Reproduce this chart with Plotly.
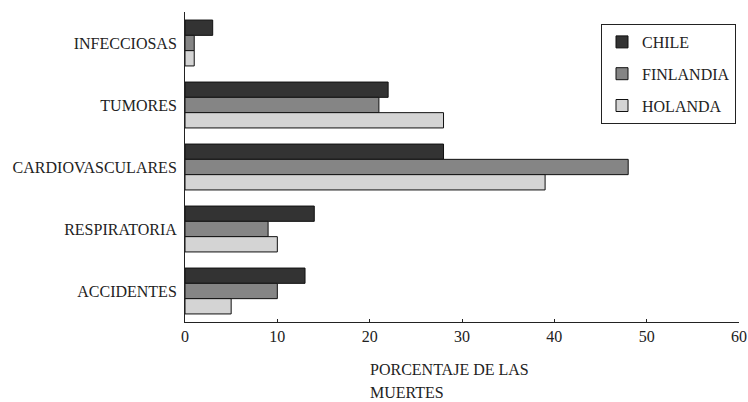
import plotly.graph_objects as go

categories = ["INFECCIOSAS", "TUMORES", "CARDIOVASCULARES", "RESPIRATORIA", "ACCIDENTES"]
chile = [3, 22, 28, 14, 13]
finlandia = [1, 21, 48, 9, 10]
holanda = [1, 28, 39, 10, 5]
x_ticks = [0, 10, 20, 30, 40, 50, 60]

series = [("CHILE", chile, "#333333"), ("FINLANDIA", finlandia, "#858585"), ("HOLANDA", holanda, "#d4d4d4")]

SERIF = "Liberation Serif"
fig = go.Figure()
for name, vals, col in series:
    fig.add_trace(go.Bar(
        y=categories, x=vals, name=name, orientation="h", legendgroup=name,
        marker=dict(color=col, line=dict(color="#111111", width=1)),
    ))

W, H = 748, 402
L, R, T, B = 185, 9, 12, 80
ph = H - T - B
pw = W - L - R
fig.update_layout(
    width=W, height=H,
    margin=dict(l=L, r=R, t=T, b=B, autoexpand=False),
    paper_bgcolor="white", plot_bgcolor="white",
    barmode="group", bargap=0.26, bargroupgap=0,
    font=dict(family=SERIF, size=16, color="#222222"),
    showlegend=True,
    legend=dict(x=(601 - L) / pw, y=(H - B - 24) / ph, xanchor="left", yanchor="top",
                bordercolor="#222222", borderwidth=1, bgcolor="white",
                font=dict(family=SERIF, size=16, color="#222222"),
                tracegroupgap=8, itemwidth=30),
    xaxis=dict(range=[0, 60], tickvals=x_ticks, showgrid=False, zeroline=False,
               showline=True, linecolor="#222222", linewidth=1, automargin=False,
               ticks="inside", ticklen=3, tickcolor="#222222", ticklabeloverflow="allow",
               tickfont=dict(family=SERIF, size=16)),
    yaxis=dict(autorange="reversed", showgrid=False, zeroline=False, automargin=False,
               showline=True, linecolor="#222222", linewidth=1,
               ticks="", ticklabelstandoff=4, tickfont=dict(family=SERIF, size=16)),
)
for txt, yc in [("PORCENTAJE DE LAS", 369), ("MUERTES", 392)]:
    fig.add_annotation(text=txt, xref="paper", yref="paper",
                       x=(368 - L) / pw, y=(H - B - yc) / ph, xanchor="left", yanchor="middle",
                       align="left", showarrow=False,
                       font=dict(family=SERIF, size=16, color="#222222"))
fig.write_html("out.html", config={"displayModeBar": False},
               post_script="document.body.style.margin='0px';document.body.style.overflow='hidden';")
